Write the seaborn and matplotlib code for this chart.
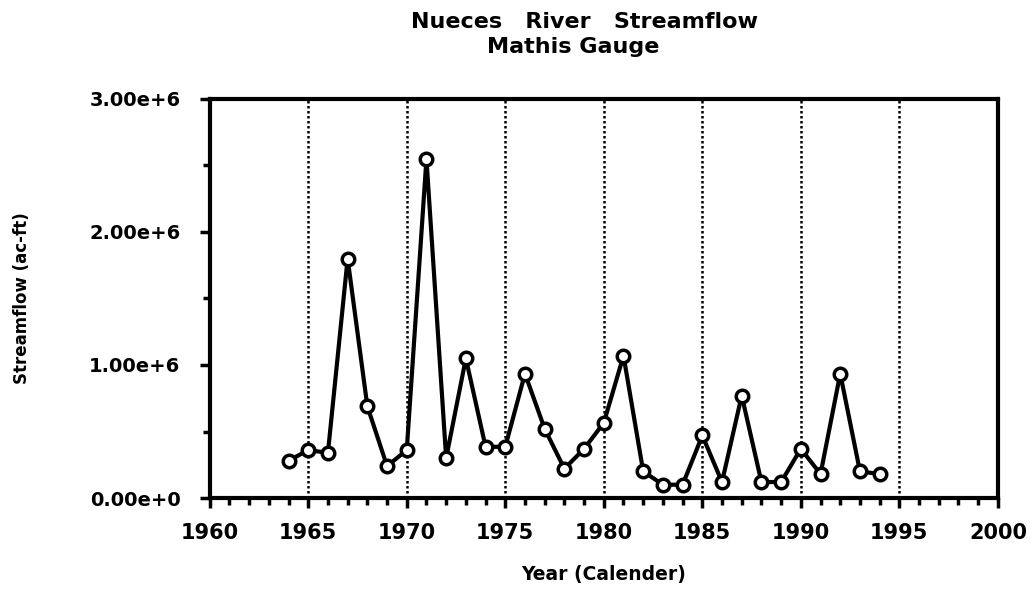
import numpy as np
import pandas as pd
import seaborn as sns
import matplotlib.pyplot as plt
from matplotlib.ticker import MultipleLocator, FuncFormatter

years = list(range(1964, 1995))
flow = [0.28e6, 0.36e6, 0.34e6, 1.80e6, 0.69e6, 0.24e6, 0.36e6, 2.55e6,
        0.30e6, 1.05e6, 0.385e6, 0.385e6, 0.935e6, 0.52e6, 0.22e6, 0.37e6,
        0.565e6, 1.07e6, 0.20e6, 0.10e6, 0.10e6, 0.47e6, 0.12e6, 0.77e6,
        0.12e6, 0.12e6, 0.37e6, 0.18e6, 0.935e6, 0.20e6, 0.18e6]
grid_years = [1965, 1970, 1975, 1980, 1985, 1990, 1995]

df = pd.DataFrame({"year": years, "flow": flow})

sns.set_style("white")
plt.rcParams['font.family'] = ['DejaVu Sans']
plt.rcParams['text.color'] = 'black'
plt.rcParams['axes.labelcolor'] = 'black'
plt.rcParams['xtick.color'] = 'black'
plt.rcParams['ytick.color'] = 'black'

fig = plt.figure(figsize=(10.33, 6), dpi=100)
ax = fig.add_axes([0.203, 0.17, 0.763, 0.665])

for g in grid_years:
    ax.axvline(g, color="black", linestyle=(0, (1, 1)), linewidth=1.8, zorder=1)

sns.lineplot(data=df, x="year", y="flow", ax=ax, color="black", linewidth=3,
             marker="o", markersize=9, markerfacecolor="white",
             markeredgecolor="black", markeredgewidth=2.5, zorder=3)

ax.set_xlim(1960, 2000)
ax.set_ylim(0, 3e6)
ax.xaxis.set_major_locator(MultipleLocator(5))
ax.xaxis.set_minor_locator(MultipleLocator(1))
ax.yaxis.set_major_locator(MultipleLocator(1e6))
ax.yaxis.set_minor_locator(MultipleLocator(0.5e6))
ax.yaxis.set_major_formatter(FuncFormatter(
    lambda v, p: "{:.2f}e+6".format(v / 1e6) if v > 0 else "0.00e+0"))

for s in ax.spines.values():
    s.set_linewidth(3)
    s.set_color("black")

ax.tick_params(axis="both", which="both", bottom=True, left=True)
ax.tick_params(axis="both", which="major", direction="out", length=7, width=2.5)
ax.tick_params(axis="both", which="minor", direction="out", length=5, width=2.5)
ax.tick_params(axis="x", labelsize=15, pad=11)
ax.tick_params(axis="y", labelsize=14, pad=14)
for lab in ax.get_xticklabels() + ax.get_yticklabels():
    lab.set_fontweight("bold")

ax.set_xlabel("Year (Calender)", fontsize=13.5, fontweight="bold", labelpad=16)
ax.set_ylabel("Streamflow (ac-ft)", fontsize=12, fontweight="bold", labelpad=42)

fig.text(0.566, 0.963, "Nueces   River   Streamflow", ha="center", va="center",
         fontsize=16, fontweight="bold")
fig.text(0.555, 0.921, "Mathis Gauge", ha="center", va="center",
         fontsize=16, fontweight="bold")

fig.savefig("out.png", dpi=100)
